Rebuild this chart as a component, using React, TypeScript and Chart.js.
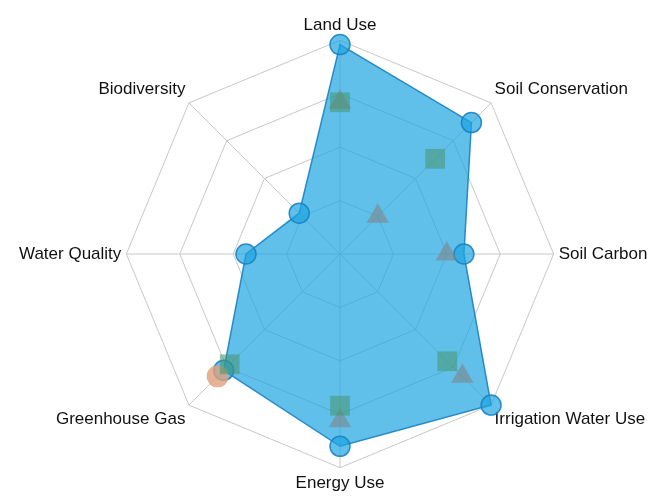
import React, { useEffect, useRef } from "react";
import { Chart, registerables } from "chart.js";

Chart.register(...registerables);

const categories = [
  "Land Use",
  "Soil Conservation",
  "Soil Carbon",
  "Irrigation Water Use",
  "Energy Use",
  "Greenhouse Gas",
  "Water Quality",
  "Biodiversity",
];

const seriesCircles = [98, 87, 58, 100, 90, 77, 44, 27];
const seriesSquares = [71, 63, null, 71, 71, 73, null, null];
const seriesTriangles = [71, 25, 50, 81, 78, null, null, null];
const seriesOrange = [null, null, null, null, null, 81, null, null];

const scaleMin = 0;
const scaleMax = 100;
const scaleStep = 25;

export default function App() {
  const ref = useRef<HTMLCanvasElement | null>(null);

  useEffect(() => {
    if (!ref.current) return;
    const chart = new Chart(ref.current, {
      type: "radar",
      data: {
        labels: categories,
        datasets: [
          {
            label: "Squares",
            data: seriesSquares,
            showLine: false,
            fill: false,
            pointStyle: "rect",
            pointRadius: 14,
            pointBorderWidth: 0,
            pointBackgroundColor: "rgba(70,150,110,0.55)",
            pointBorderColor: "rgba(70,150,110,0.55)",
            borderColor: "rgba(0,0,0,0)",
            backgroundColor: "rgba(0,0,0,0)",
          },
          {
            label: "Triangles",
            data: seriesTriangles,
            showLine: false,
            fill: false,
            pointStyle: "triangle",
            pointRadius: 13,
            pointBorderWidth: 0,
            pointBackgroundColor: "rgba(130,130,130,0.55)",
            pointBorderColor: "rgba(130,130,130,0.55)",
            borderColor: "rgba(0,0,0,0)",
            backgroundColor: "rgba(0,0,0,0)",
          },
          {
            label: "Orange",
            data: seriesOrange,
            showLine: false,
            fill: false,
            pointStyle: "circle",
            pointRadius: 11,
            pointBorderWidth: 0,
            pointBackgroundColor: "rgba(225,160,125,0.8)",
            pointBorderColor: "rgba(225,160,125,0.8)",
            borderColor: "rgba(0,0,0,0)",
            backgroundColor: "rgba(0,0,0,0)",
          },
          {
            label: "Circles",
            data: seriesCircles,
            fill: true,
            backgroundColor: "rgba(30,165,225,0.7)",
            borderColor: "rgba(25,130,195,0.9)",
            borderWidth: 1.5,
            pointStyle: "circle",
            pointRadius: 10,
            pointBorderWidth: 1.5,
            pointBackgroundColor: "rgba(30,165,225,0.7)",
            pointBorderColor: "rgba(25,130,195,0.9)",
          },
        ],
      },
      options: {
        animation: false,
        responsive: true,
        maintainAspectRatio: false,
        layout: { padding: { top: 10, bottom: 0, left: 12, right: 0 } },
        plugins: {
          legend: { display: false },
          tooltip: { enabled: false },
          title: { display: false },
        },
        scales: {
          r: {
            min: scaleMin,
            max: scaleMax,
            ticks: { display: false, stepSize: scaleStep },
            grid: { color: "rgba(200,200,200,1)", lineWidth: 1 },
            angleLines: { color: "rgba(200,200,200,1)", lineWidth: 1 },
            pointLabels: {
              color: "#111",
              padding: 5,
              font: { family: "'Liberation Sans', Arial, sans-serif", size: 17 },
            },
          },
        },
      },
    });
    return () => chart.destroy();
  }, []);

  return (
    <div style={{ position: "absolute", left: 0, top: 0, width: 655, height: 499, background: "#fff" }}>
      <canvas ref={ref} />
    </div>
  );
}
